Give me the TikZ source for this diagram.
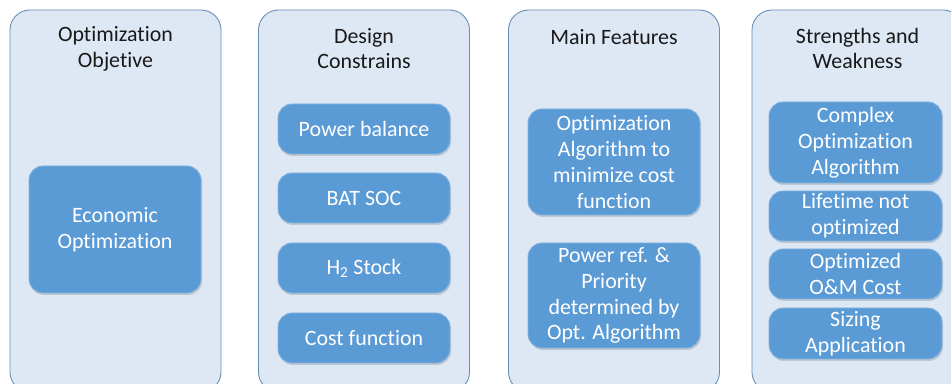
\documentclass[tikz,border=0pt]{standalone}
\usepackage{fontspec}
\setmainfont{Carlito}[Ligatures=NoCommon]
\usetikzlibrary{shadows}
\definecolor{panelfill}{RGB}{222,232,244}
\definecolor{paneldraw}{RGB}{104,142,182}
\definecolor{boxfill}{RGB}{91,155,213}
\definecolor{boxdraw}{RGB}{130,178,224}
\definecolor{titletext}{RGB}{25,25,25}
\tikzset{
  panel/.style={draw=paneldraw,fill=panelfill,line width=0.9bp,rounded corners=20bp,
    minimum width=211bp,minimum height=382bp,inner sep=0pt},
  paneltitle/.style={align=center,text=titletext,font=\fontsize{22}{26}\selectfont},
  itembox/.style={draw=boxdraw,fill=boxfill,line width=0.9bp,rounded corners=14bp,
    minimum width=172bp,inner sep=0pt,align=center,text=white,
    font=\fontsize{22}{26}\selectfont,
    drop shadow={shadow xshift=1bp,shadow yshift=-2bp,opacity=0.25,fill=black!60}},
}
\begin{document}
\begin{tikzpicture}[line join=bevel]
\useasboundingbox (0bp,0bp) rectangle (951bp,384bp);
%% panels
\node (panel_0) at (115.5bp,183bp) [panel] {};
\node (panel_1) at (364bp,183bp) [panel] {};
\node (panel_2) at (614bp,183bp) [panel] {};
\node (panel_3) at (857.5bp,183bp) [panel] {};
%% titles
\node (title_0) at (115.5bp,335.5bp) [paneltitle] {Optimization\\Objetive};
\node (title_1) at (364bp,335.5bp) [paneltitle] {Design\\Constrains};
\node (title_2) at (614bp,347bp) [paneltitle] {Main Features};
\node (title_3) at (857.5bp,335.5bp) [paneltitle] {Strengths and\\Weakness};
%% items
\node (item_0_0) at (115bp,154.5bp) [itembox,minimum height=127bp] {Economic\\Optimization};
%
\node (item_1_0) at (364bp,255bp) [itembox,minimum height=50bp] {Power balance};
\node (item_1_1) at (364bp,186bp) [itembox,minimum height=50bp] {BAT SOC};
\node (item_1_2) at (364bp,116bp) [itembox,minimum height=50bp] {H\textsubscript{2} Stock};
\node (item_1_3) at (364bp,46bp) [itembox,minimum height=50bp] {Cost function};
%
\node (item_2_0) at (614bp,222bp) [itembox,minimum height=106bp] {Optimization\\Algorithm to\\minimize cost\\function};
\node (item_2_1) at (614bp,88.5bp) [itembox,minimum height=105bp] {Power ref. \&\\Priority\\determined by\\Opt. Algorithm};
%
\node (item_3_0) at (855.5bp,241.5bp) [itembox,minimum width=173bp,minimum height=81bp] {Complex\\Optimization\\Algorithm};
\node (item_3_1) at (855.5bp,168bp) [itembox,minimum width=173bp,minimum height=50bp] {Lifetime not\\optimized};
\node (item_3_2) at (855.5bp,110bp) [itembox,minimum width=173bp,minimum height=50bp] {Optimized\\O\&M Cost};
\node (item_3_3) at (855.5bp,50.5bp) [itembox,minimum width=173bp,minimum height=51bp] {Sizing\\Application};
%
\end{tikzpicture}
\end{document}
